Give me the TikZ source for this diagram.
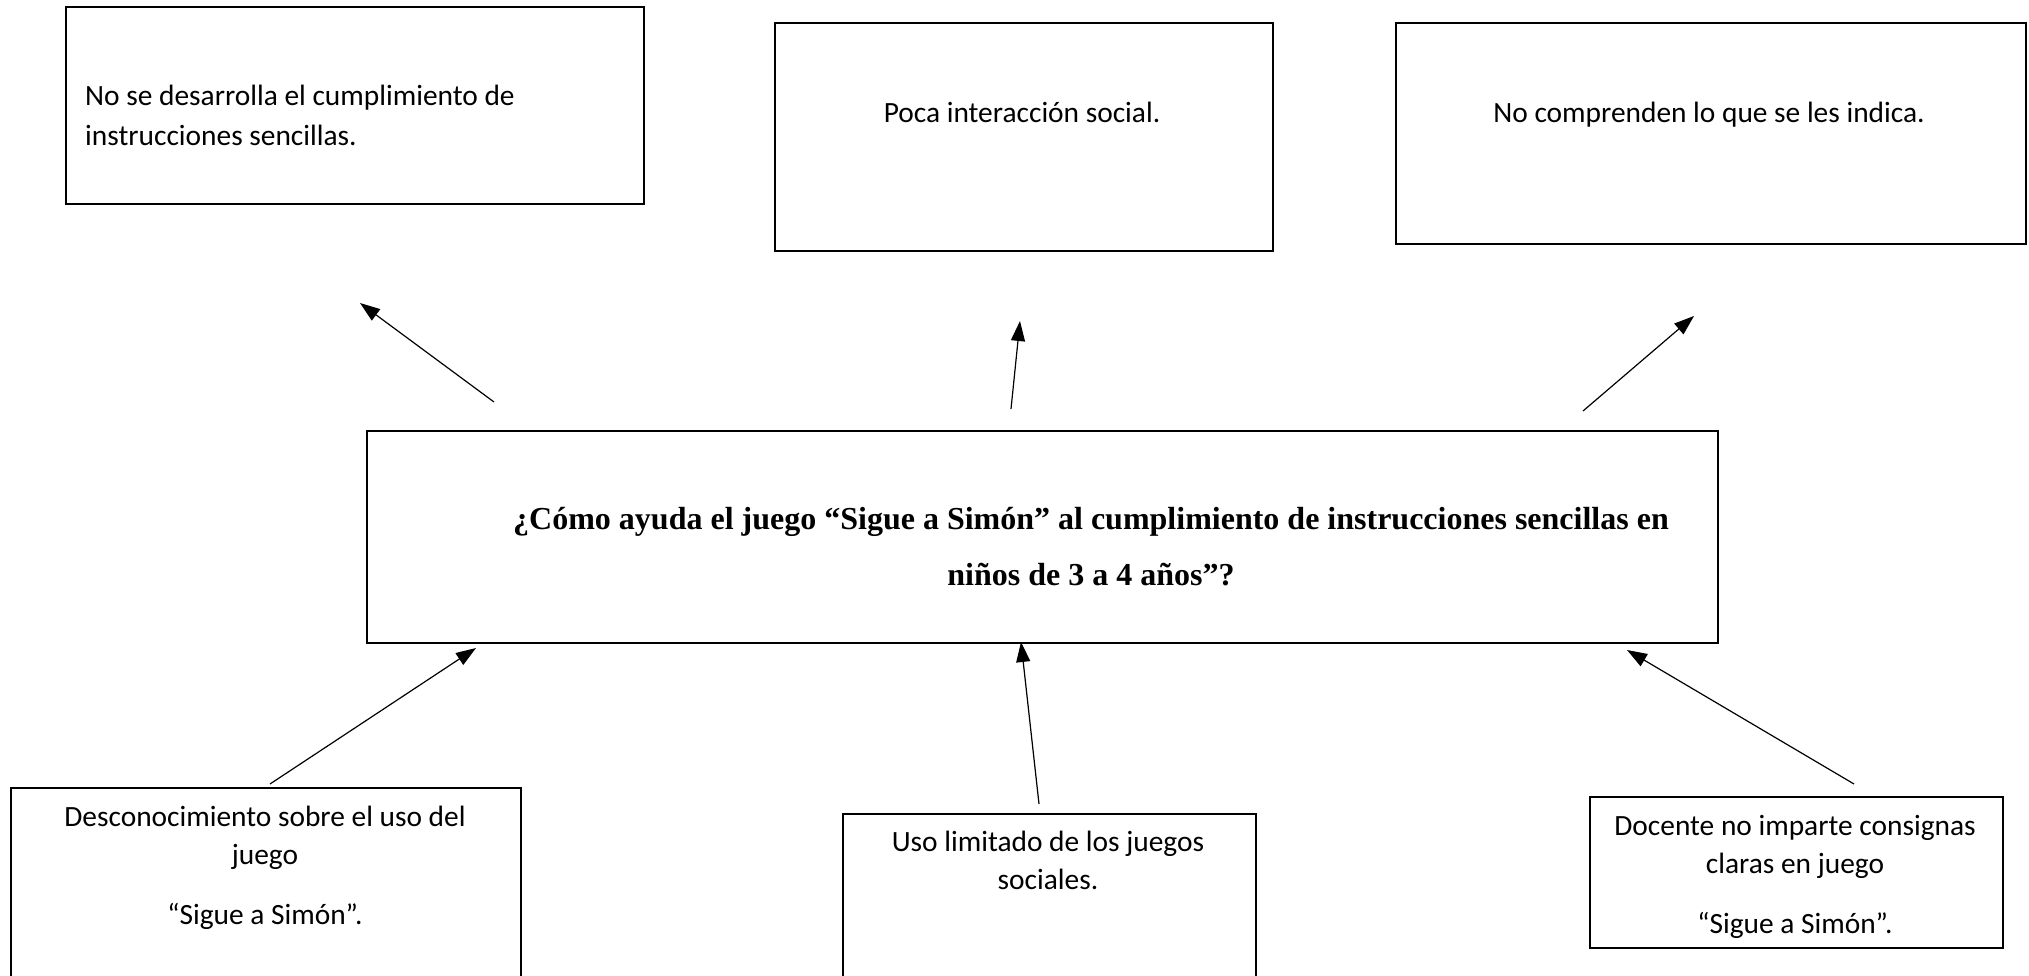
\documentclass[tikz,border=0pt]{standalone}
\usepackage{fontspec}
\setmainfont{Carlito}
\newfontfamily\timesfont{Liberation Serif}
\usetikzlibrary{arrows.meta}

\begin{document}
\begin{tikzpicture}[x=1pt,y=-1pt,>={Triangle[length=20pt,width=14pt]},
    caja/.style={draw,line width=1.6pt,inner sep=0pt,anchor=north west},
    texto/.style={inner sep=0pt,anchor=north,align=center,font=\fontsize{29.4}{38}\selectfont}]
  \useasboundingbox (0,0) rectangle (2029,976); \clip (0,0) rectangle (2029,976);

  % efectos
  \node[caja,minimum width=578pt,minimum height=197pt] (E1) at (65,6) {};
  \node[caja,minimum width=498pt,minimum height=228pt] (E2) at (774,22) {};
  \node[caja,minimum width=630pt,minimum height=221pt] (E3) at (1395,22) {};
  \node[texto,anchor=north west,align=left,font=\fontsize{29.4}{40}\selectfont] (T1) at (85,85)
    {No se desarrolla el cumplimiento de\\instrucciones sencillas.};
  \node[texto] (T2) at (1022,102) {Poca interacción social.};
  \node[texto] (T3) at (1709,102) {No comprenden lo que se les indica.};

  % problema
  \node[caja,minimum width=1351pt,minimum height=212pt] (P) at (366,430) {};
  \node[texto,font=\timesfont\bfseries\fontsize{32}{56}\selectfont] (TP) at (1091,507)
    {¿Cómo ayuda el juego “Sigue a Simón” al cumplimiento de instrucciones sencillas en\\
     niños de 3 a 4 años”?};

  % causas
  \node[caja,minimum width=510pt,minimum height=260pt] (C1) at (10,787) {};
  \node[caja,minimum width=413pt,minimum height=240pt] (C2) at (842,813) {};
  \node[caja,minimum width=413pt,minimum height=151pt] (C3) at (1589,796) {};
  \node[texto] (T4) at (265,806) {Desconocimiento sobre el uso del\\juego\\[22pt]“Sigue a Simón”.};
  \node[texto] (T5) at (1048,831) {Uso limitado de los juegos\\sociales.};
  \node[texto] (T6) at (1795,815) {Docente no imparte consignas\\claras en juego\\[22pt]“Sigue a Simón”.};

  % flechas
  \coordinate (A1) at (494,402); \coordinate (B1) at (360,303);
  \coordinate (A2) at (1011,409); \coordinate (B2) at (1020,321);
  \coordinate (A3) at (1583,411); \coordinate (B3) at (1694,316);
  \coordinate (A4) at (270,784); \coordinate (B4) at (476,648);
  \coordinate (A5) at (1039,804); \coordinate (B5) at (1021,642);
  \coordinate (A6) at (1854,784); \coordinate (B6) at (1627,650);
  \foreach \i in {1,...,6} \draw[->,line width=1.2pt] (A\i) -- (B\i);
\end{tikzpicture}
\end{document}
